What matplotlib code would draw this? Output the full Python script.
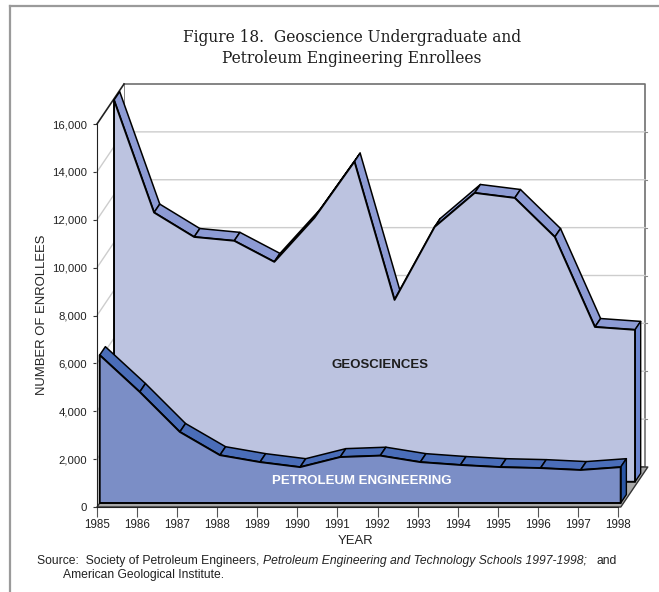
import numpy as np
import matplotlib
matplotlib.use("Agg")
import matplotlib.pyplot as plt
from matplotlib.patches import Polygon
from matplotlib.lines import Line2D

# ---- data -------------------------------------------------------------
years = np.arange(1985, 1999)
geosciences = [15950, 11250, 10230, 10070, 9190, 11030, 13380,
               7600, 10650, 12070, 11860, 10230, 6470, 6350]
petroleum = [6180, 4640, 2970, 2000, 1710, 1500, 1920,
             1980, 1710, 1590, 1500, 1460, 1380, 1500]
ytick_values = np.arange(0, 16001, 2000)
ytick_labels = [f"{v:,}" for v in ytick_values]
title = "Figure 18.  Geoscience Undergraduate and\nPetroleum Engineering Enrollees"

# ---- pseudo-3D depth settings (oblique projection in data units) ------
DX = 0.674      # years shifted per unit depth
DY = 1671.0     # enrollees shifted per unit depth
GEO_DEPTH = (0.63, 0.84)
PET_DEPTH = (0.10, 0.31)

GEO_FACE, GEO_TOP, GEO_SIDE = "#BCC3E0", "#8D9BD4", "#6D86CF"
PET_FACE, PET_TOP, PET_SIDE = "#7B8EC6", "#4A6DB8", "#2A56A5"
GRID = "#CDCDCD"
SANS = "Liberation Sans"


def proj(x, v, d):
    return (x + d * DX, v + d * DY)


W, H = 659, 592
fig = plt.figure(figsize=(W / 100, H / 100), dpi=100)
ax = fig.add_axes([97 / W, (H - 507) / H, (618 - 97) / W, (507 - 124) / H])
ax.set_xlim(years[0], years[-1])
ax.set_ylim(0, 16000)
ax.patch.set_alpha(0)
for s in ("top", "right"):
    ax.spines[s].set_visible(False)
ax.spines["left"].set_color("#222222")
ax.spines["bottom"].set_color("#222222")
ax.spines["left"].set_zorder(20)
ax.spines["bottom"].set_zorder(20)


def poly(pts, fc, ec="black", lw=1.0, z=1):
    p = Polygon(pts, closed=True, facecolor=fc, edgecolor=ec, linewidth=lw,
                joinstyle="round", clip_on=False, zorder=z)
    ax.add_patch(p)


x0, x1 = years[0], years[-1]
ymax = 16000

# back wall
poly([proj(x0, 0, 1), proj(x1, 0, 1), proj(x1, ymax, 1), proj(x0, ymax, 1)],
     "white", ec="#707070", lw=1.2, z=1)
# side wall
poly([(x0, 0), proj(x0, 0, 1), proj(x0, ymax, 1), (x0, ymax)],
     "white", ec="none", lw=0, z=1)
for v in ytick_values[1:-1]:
    a, b, c = (x0, v), proj(x0, v, 1), proj(x1, v, 1)
    ax.add_line(Line2D([a[0], b[0], c[0]], [a[1], b[1], c[1]], color=GRID,
                       lw=1.0, clip_on=False, zorder=2))
    ax.add_line(Line2D([c[0], c[0] + 0.05], [c[1], c[1]], color="#888888",
                       lw=0.8, clip_on=False, zorder=2))
# side wall top edge
a, b = (x0, ymax), proj(x0, ymax, 1)
ax.add_line(Line2D([a[0], b[0]], [a[1], b[1]], color="#222222", lw=1.2,
                   clip_on=False, zorder=3))

# floor
poly([(x0, 0), (x1 + 0.07, 0), proj(x1 + 0.07, 0, 1), proj(x0, 0, 1)],
     "#A8A8A8", ec="#333333", lw=1.0, z=3)


def area3d(vals, depth, face, top, side, z):
    d0, d1 = depth
    # top ribbons
    for i in range(len(years) - 1):
        xa, xb = years[i], years[i + 1]
        va, vb = vals[i], vals[i + 1]
        poly([proj(xa, va, d0), proj(xb, vb, d0), proj(xb, vb, d1),
              proj(xa, va, d1)], top, lw=1.1, z=z)
    # right end face
    xe, ve = years[-1], vals[-1]
    poly([proj(xe, 0, d0), proj(xe, ve, d0), proj(xe, ve, d1),
          proj(xe, 0, d1)], side, lw=1.0, z=z)
    # front face
    pts = [proj(years[0], 0, d0)]
    pts += [proj(x, v, d0) for x, v in zip(years, vals)]
    pts += [proj(years[-1], 0, d0)]
    poly(pts, face, lw=1.4, z=z + 0.5)


area3d(geosciences, GEO_DEPTH, GEO_FACE, GEO_TOP, GEO_SIDE, 5)
area3d(petroleum, PET_DEPTH, PET_FACE, PET_TOP, PET_SIDE, 8)

# series labels
ax.text(1992.06, 5930, "GEOSCIENCES", ha="center", va="center",
        fontsize=9.5, fontweight="bold", color="#1E1E1E",
        family=SANS, zorder=12)
ax.text(1991.62, 1080, "PETROLEUM ENGINEERING", ha="center", va="center",
        fontsize=9.5, fontweight="bold", color="white",
        family=SANS, zorder=12)

# ticks
ax.set_yticks(ytick_values, ytick_labels)
ax.set_xticks(years, [str(y) for y in years])
ax.tick_params(axis="y", length=3, pad=4, labelsize=8.2, colors="#333333",
               labelcolor="#222222")
ax.tick_params(axis="x", length=7, pad=2, labelsize=8.4, colors="#555555",
               labelcolor="#222222")
for lab in ax.get_xticklabels() + ax.get_yticklabels():
    lab.set_family(SANS)

# axis titles
fig.text(42 / W, 1 - 315 / H, "NUMBER OF ENROLLEES", rotation=90,
         ha="center", va="center", fontsize=9.4, color="#222222",
         family=SANS)
fig.text(356 / W, 1 - 541 / H, "YEAR", ha="center", va="center",
         fontsize=9.4, color="#222222", family=SANS)

# title
fig.text(352 / W, 1 - 48 / H, title, ha="center", va="center",
         fontsize=11.2, color="#1E1E1E", family="DejaVu Serif",
         linespacing=1.3)

# source note (mixed upright / italic)
fig.canvas.draw()
renderer = fig.canvas.get_renderer()
sy = 1 - 561 / H
fs = 8.7
t1 = fig.text(37 / W, sy, "Source:  Society of Petroleum Engineers, ",
              ha="left", va="center", fontsize=fs, color="#222222",
              family=SANS)
bb = t1.get_window_extent(renderer)
t2 = fig.text(bb.x1 / W, sy,
              "Petroleum Engineering and Technology Schools 1997-1998;",
              ha="left", va="center", fontsize=fs, style="italic",
              color="#222222", family=SANS)
bb2 = t2.get_window_extent(renderer)
fig.text(bb2.x1 / W + 10 / W, sy, "and", ha="left", va="center",
         fontsize=fs, color="#222222", family=SANS)
fig.text(63 / W, 1 - 575 / H, "American Geological Institute.", ha="left",
         va="center", fontsize=fs, color="#222222", family=SANS)

# outer frame
fig.add_artist(Line2D([10 / W, 10 / W], [0, 1 - 6 / H], color="#9A9A9A",
                      lw=1.6, transform=fig.transFigure))
fig.add_artist(Line2D([10 / W, 1], [1 - 6 / H, 1 - 6 / H], color="#9A9A9A",
                      lw=1.6, transform=fig.transFigure))

fig.savefig("out.png", dpi=100)
